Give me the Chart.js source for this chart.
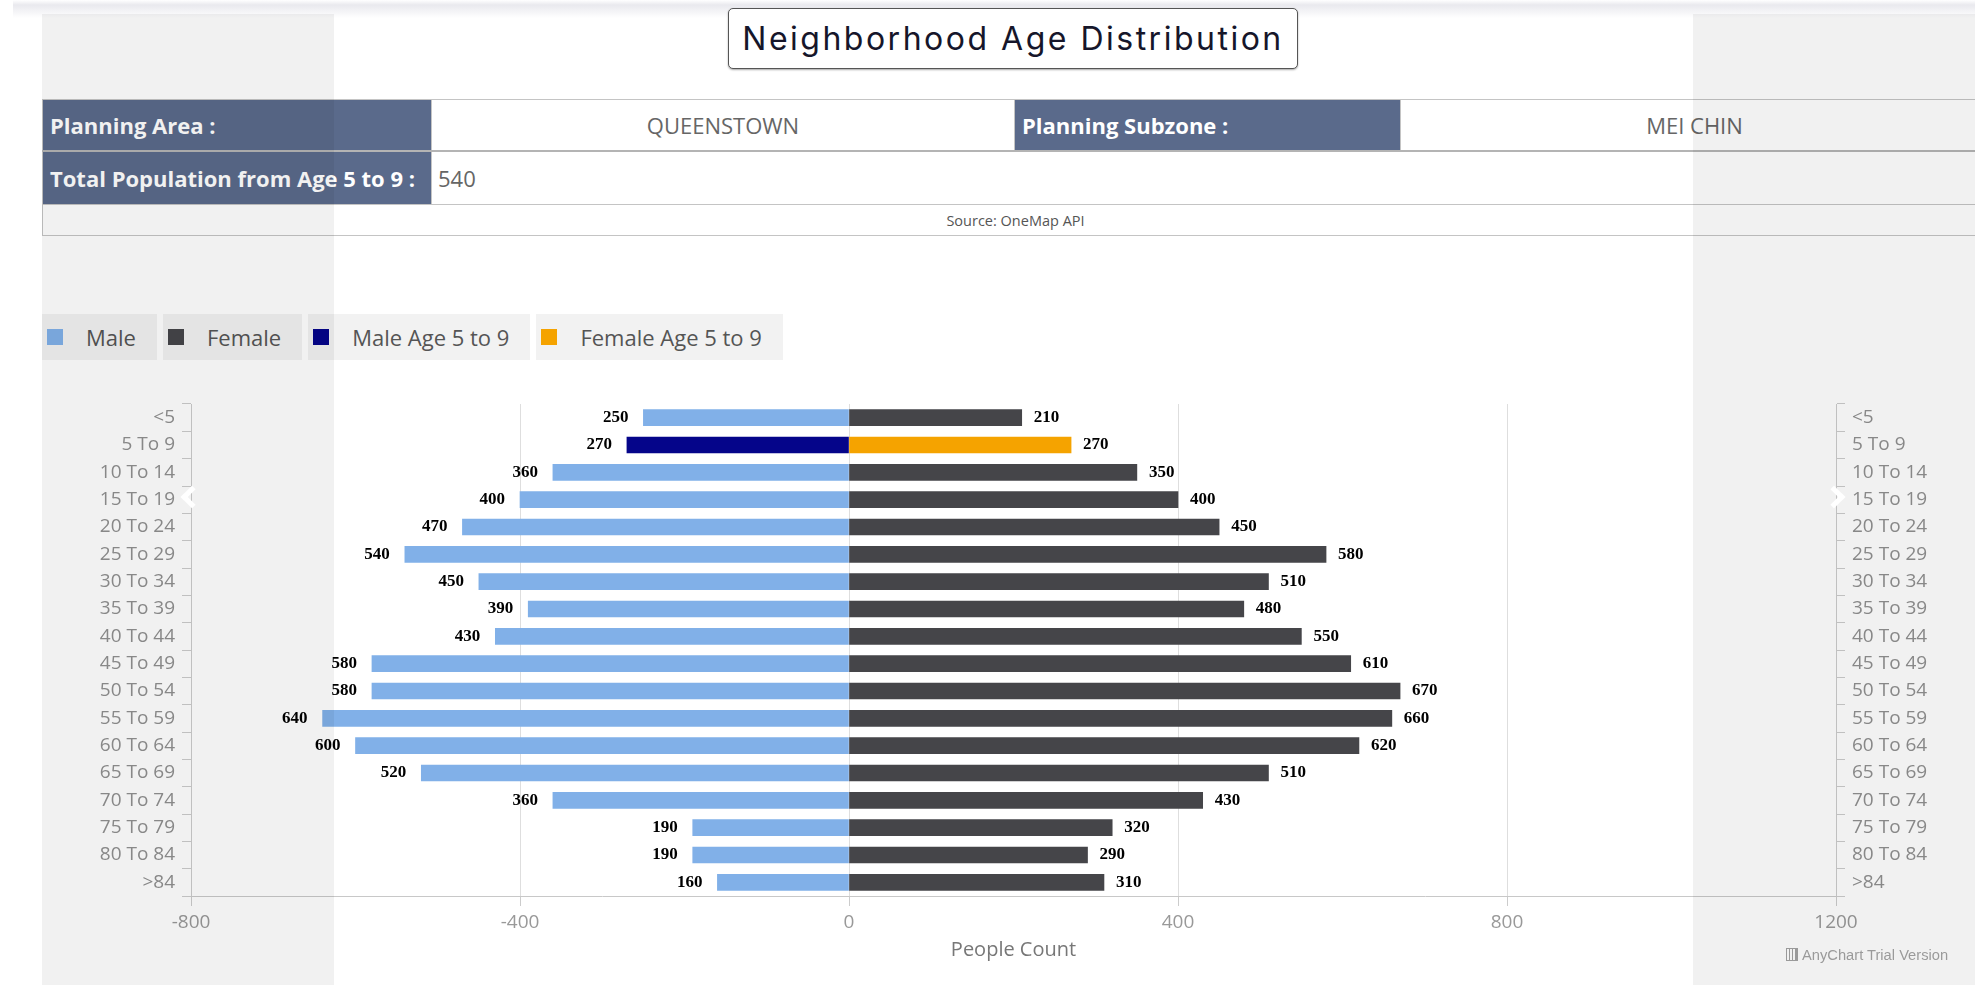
<!DOCTYPE html>
<html>
<head>
<meta charset="utf-8">
<script src="https://cdn.jsdelivr.net/npm/chart.js@4.4.1/dist/chart.umd.min.js"></script>
<style>
  html, body { margin: 0; padding: 0; }
  body { width: 1975px; height: 985px; overflow: hidden; background: #fff; position: relative; font-family: "Open Sans", sans-serif; }
  .topShade { position: absolute; left: 13px; right: 0; top: 0; height: 18px;
    background: linear-gradient(to bottom, #fff 0px, #e9e9ee 5px, #fff 18px); }
  .panel { position: absolute; top: 14px; bottom: 0; background: rgba(0,0,0,0.055); pointer-events: none; z-index: 5; }
  .title { position: absolute; left: 728px; top: 8px; width: 568px; height: 59px; border: 1px solid #555;
    border-radius: 5px; box-shadow: 0 1px 2px rgba(0,0,0,0.35); background: #fff;
    font-family: Inter, sans-serif; font-size: 32px; letter-spacing: 2.5px; color: #16162a; text-align: center; line-height: 59px; }
  table.info { position: absolute; left: 42px; top: 99px; width: 1946px; border-collapse: collapse; table-layout: fixed; }
  table.info td { border: 1px solid #c4c4c4; padding: 0; font-size: 22px; color: #666; }
  table.info tr.r1 td { height: 50px; border-bottom: 2px solid #b4b4b4; }
  table.info tr.r2 td { height: 52px; }
  table.info tr.r3 td { height: 30px; font-size: 14.5px; color: #555; text-align: center; }
  table.info td.hd { background: #5a6a8b; color: #fff; font-weight: bold; font-size: 22px; padding-left: 7px; white-space: nowrap; }
  table.info td.val { text-align: center; }
  table.info td.num { padding-left: 6px; }
  .legend { position: absolute; left: 42px; top: 314px; display: flex; gap: 6px; }
  .legend .item { height: 46px; background: #f2f2f2; display: flex; align-items: center; padding: 0 21px 0 5px;
    font-size: 22px; color: #555; }
  .legend .box { width: 16px; height: 16px; margin-right: 23px; }
  #wrap { position: absolute; left: 0; top: 390px; width: 1975px; height: 595px; }
  .arrow { position: absolute; width: 11px; height: 11px; border-left: 5px solid #fff; border-bottom: 5px solid #fff; z-index: 6; }
  .wm { position: absolute; left: 1786px; top: 947px; font-family: "Liberation Sans", Arial, sans-serif; font-size: 14.7px; color: #9a9a9a; z-index: 6; }
  .wm .ic { display: inline-block; width: 10px; height: 11px; border: 1px solid #9a9a9a; margin-right: 4px; vertical-align: -1px;
    background: linear-gradient(to right, transparent 2px, #9a9a9a 2px, #9a9a9a 3px, transparent 3px, transparent 5px, #9a9a9a 5px, #9a9a9a 6px, transparent 6px, transparent 8px, #9a9a9a 8px); }
</style>
</head>
<body>
<div class="topShade"></div>
<div class="title">Neighborhood Age Distribution</div>

<table class="info">
  <colgroup><col style="width:389px"><col style="width:583px"><col style="width:386px"><col style="width:588px"></colgroup>
  <tr class="r1"><td class="hd">Planning Area :</td><td class="val">QUEENSTOWN</td><td class="hd">Planning Subzone :</td><td class="val">MEI CHIN</td></tr>
  <tr class="r2"><td class="hd">Total Population from Age 5 to 9 :</td><td class="num" colspan="3">540</td></tr>
  <tr class="r3"><td colspan="4">Source: OneMap API</td></tr>
</table>

<div class="legend" id="legend"></div>

<div id="wrap"><canvas id="chart" width="1975" height="595"></canvas></div>

<div class="panel" style="left:42px;width:292px"></div>
<div class="panel" style="left:1693px;right:0"></div>
<div class="arrow" style="left:184px;top:489px;transform:rotate(45deg)"></div>
<div class="arrow" style="left:1826px;top:489px;transform:rotate(-135deg)"></div>
<div class="wm"><span class="ic"></span>AnyChart Trial Version</div>

<script>
const ageGroups = ['<5', '5 To 9', '10 To 14', '15 To 19', '20 To 24', '25 To 29', '30 To 34', '35 To 39', '40 To 44',
  '45 To 49', '50 To 54', '55 To 59', '60 To 64', '65 To 69', '70 To 74', '75 To 79', '80 To 84', '>84']
const maleCounts = [250, 270, 360, 400, 470, 540, 450, 390, 430, 580, 580, 640, 600, 520, 360, 190, 190, 160]
const femaleCounts = [210, 270, 350, 400, 450, 580, 510, 480, 550, 610, 670, 660, 620, 510, 430, 320, 290, 310]
const highlightGroup = '5 To 9'
const xTicks = [-800, -400, 0, 400, 800, 1200]

const colors = {
  male: '#81b0e8',
  female: '#454549',
  male59: '#05058a',
  female59: '#f5a300'
}

// male goes left, so negative; highlighted age group gets its own series
const isHi = i => ageGroups[i] === highlightGroup
const maleData = maleCounts.map((v, i) => isHi(i) ? null : -v)
const femaleData = femaleCounts.map((v, i) => isHi(i) ? null : v)
const male59Data = maleCounts.map((v, i) => isHi(i) ? -v : null)
const female59Data = femaleCounts.map((v, i) => isHi(i) ? v : null)

const datasets = [
  {label: 'Male', data: maleData, backgroundColor: colors.male},
  {label: 'Female', data: femaleData, backgroundColor: colors.female},
  {label: 'Male Age 5 to 9', data: male59Data, backgroundColor: colors.male59},
  {label: 'Female Age 5 to 9', data: female59Data, backgroundColor: colors.female59}
]
datasets.forEach(d => { d.barThickness = 16; d.borderWidth = 0 })

// html legend like the original
const leg = document.getElementById('legend')
datasets.forEach(d => {
  const it = document.createElement('div')
  it.className = 'item'
  it.innerHTML = '<span class="box" style="background:' + d.backgroundColor + '"></span>' + d.label
  leg.appendChild(it)
})

const valueLabels = {
  id: 'valueLabels',
  afterDatasetsDraw(chart) {
    const c = chart.ctx
    c.save()
    c.font = 'bold 17px "Liberation Serif", "Times New Roman", serif'
    c.fillStyle = '#000'
    c.textBaseline = 'middle'
    chart.data.datasets.forEach((ds, di) => {
      const meta = chart.getDatasetMeta(di)
      meta.data.forEach((el, j) => {
        const v = ds.data[j]
        if (v === null) return
        if (v < 0) {
          c.textAlign = 'right'
          c.fillText(Math.abs(v), el.x - 15, el.y)
        } else {
          c.textAlign = 'left'
          c.fillText(v, el.x + 12, el.y)
        }
      })
    })
    c.restore()
  }
}

const tickFont = {family: '"Open Sans", sans-serif', size: 19}
// keep label overhang from pushing the plot down
const fitY = w => s => { s.width = w; s.paddingTop = 0; s.paddingBottom = 0 }

new Chart(document.getElementById('chart'), {
  type: 'bar',
  data: {labels: ageGroups, datasets: datasets},
  plugins: [valueLabels],
  options: {
    indexAxis: 'y',
    responsive: false,
    animation: false,
    devicePixelRatio: 1,
    layout: {padding: {top: 14, left: 0, right: 0, bottom: 0}},
    plugins: {legend: {display: false}, tooltip: {enabled: false}},
    scales: {
      x: {
        type: 'linear',
        stacked: true,
        min: xTicks[0],
        max: xTicks[xTicks.length - 1],
        afterBuildTicks: s => { s.ticks = xTicks.map(v => ({value: v})) },
        afterFit: s => { s.height = 89 },
        ticks: {color: '#999', font: tickFont, padding: 5, callback: v => String(v)},
        grid: {color: '#dedede', tickLength: 10, tickColor: '#cccccc'},
        border: {color: '#c8c8c8'},
        title: {display: true, text: 'People Count', color: '#777', font: {family: '"Open Sans", sans-serif', size: 20},
          padding: {top: 0, bottom: 23}}
      },
      y: {
        type: 'category',
        stacked: true,
        position: 'left',
        afterFit: fitY(191),
        ticks: {color: '#909090', font: tickFont, padding: 7, autoSkip: false},
        grid: {drawOnChartArea: false, offset: true, tickLength: 9, color: '#cccccc'},
        border: {color: '#cccccc'}
      },
      y2: {
        type: 'category',
        labels: ageGroups,
        position: 'right',
        offset: true,
        afterFit: fitY(139),
        ticks: {color: '#909090', font: tickFont, padding: 7, autoSkip: false},
        grid: {drawOnChartArea: false, offset: true, tickLength: 9, color: '#cccccc'},
        border: {color: '#cccccc'}
      }
    }
  }
})
</script>
</body>
</html>
